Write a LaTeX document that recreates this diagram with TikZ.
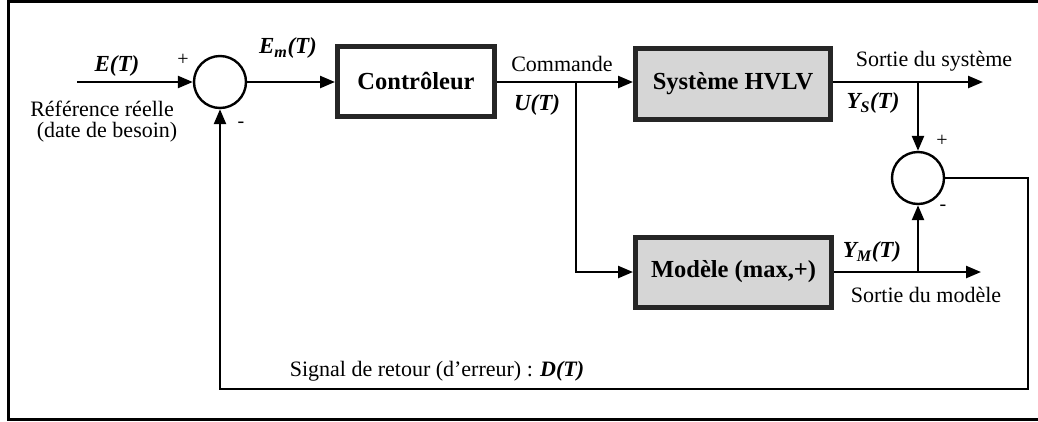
\documentclass[tikz,border=0pt]{standalone}
\usepackage{fontspec}
\setmainfont{Liberation Serif}
\usetikzlibrary{arrows.meta}
\begin{document}
\begin{tikzpicture}[x=1pt,y=-1pt,
  sig/.style={line width=2.4pt,-{Triangle[length=15pt,width=12pt]}},
  sumnode/.style={circle,draw,line width=2.4pt,minimum size=52pt,inner sep=0pt},
  ctrlbox/.style={draw=black!85,line width=5pt,fill=white,inner sep=0pt,font=\fontsize{24.5}{28}\selectfont\bfseries},
  sysbox/.style={draw=black!85,line width=5pt,fill=black!16,inner sep=0pt,font=\fontsize{24.5}{28}\selectfont\bfseries},
  lbl/.style={inner sep=0pt,font=\fontsize{22}{25}\selectfont},
  mlbl/.style={inner sep=0pt,font=\fontsize{23}{26}\selectfont\bfseries\itshape},
  sgn/.style={inner sep=0pt,font=\fontsize{20}{20}\selectfont}]
\useasboundingbox (0,0) rectangle (1038,421);
\draw[line width=3pt] (1050,1.5) -- (8,1.5) -- (8,419) -- (1050,419);
% nodes
\coordinate (ein) at (77,82);
\node[sumnode] (s1) at (220,82) {};
\node[ctrlbox,minimum width=157pt,minimum height=70pt] (ctrl) at (416,81) {Contrôleur};
\node[sysbox,minimum width=195pt,minimum height=71pt] (sys) at (733,84) {Système HVLV};
\node[sysbox,minimum width=196pt,minimum height=70pt] (mod) at (733.5,272) {Modèle (max,+)};
\node[sumnode] (s2) at (918,178) {};
\coordinate (u) at (576,82);
\coordinate (ys) at (918,82);
\coordinate (ym) at (918,272);
\coordinate (sout) at (983,82);
\coordinate (mout) at (981,272);
\coordinate (fr) at (1028,178);
\coordinate (fb) at (1028,389);
\coordinate (fl) at (220,389);
% connectors
\draw[sig] (ein) -- (s1.west);
\draw[sig] (s1.east) -- (ctrl.west |- s1.east);
\draw[sig] (ctrl.east |- u) -- (sys.west |- u);
\draw[sig] (u) -- (u |- mod.west) -- (mod.west);
\draw[sig] (sys.east |- ys) -- (sout);
\draw[sig] (ys) -- (s2.north);
\draw[sig] (mod.east |- ym) -- (mout);
\draw[sig] (ym) -- (s2.south);
\draw[sig] (s2.east) -- (fr) -- (fb) -- (fl) -- (s1.south);
% labels
\node[mlbl] (le) at (117,66) {E(T)};
\node[sgn] (p1) at (183,60) {+};
\node[lbl] (lr1) at (102,109) {Référence réelle};
\node[lbl] (lr2) at (107,132) {(date de besoin)};
\node[sgn] (m1) at (241,125) {-};
\node[mlbl] (lem) at (288,48) {E\textsubscript{m}(T)};
\node[lbl] (lc) at (562,64) {Commande};
\node[mlbl] (lu) at (537,105) {U(T)};
\node[lbl] (lss) at (934,61) {Sortie du système};
\node[mlbl] (lys) at (873,103) {Y\textsubscript{S}(T)};
\node[sgn] (p2) at (942,141) {+};
\node[sgn] (m2) at (943,208) {-};
\node[mlbl] (lym) at (872,252) {Y\textsubscript{M}(T)};
\node[lbl] (lsm) at (926,295) {Sortie du modèle};
\node[lbl] (lsig) at (437,371) {Signal de retour (d'erreur) : \textbf{\textit{D(T)}}};
\end{tikzpicture}
\end{document}
